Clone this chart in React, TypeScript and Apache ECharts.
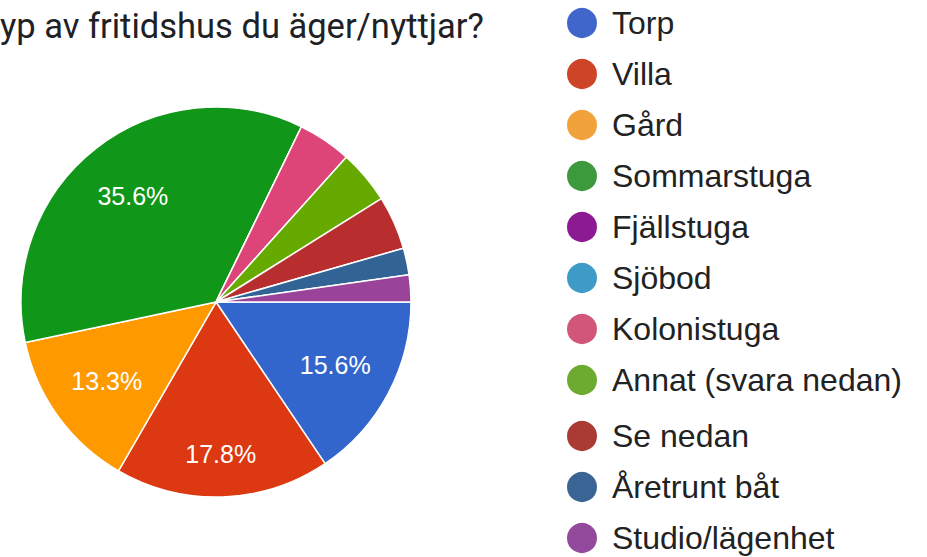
import React, { useEffect, useRef } from "react";
import * as echarts from "echarts";

const titleText = "yp av fritidshus du äger/nyttjar?";
const categories = [
  "Torp",
  "Villa",
  "Gård",
  "Sommarstuga",
  "Fjällstuga",
  "Sjöbod",
  "Kolonistuga",
  "Annat (svara nedan)",
  "Se nedan",
  "Åretrunt båt",
  "Studio/lägenhet",
];
// respondent counts (45 total) read from the slice percentages
const counts = [7, 8, 6, 16, 0, 0, 2, 2, 2, 1, 1];

const sliceColors = [
  "#3366cc", "#dc3912", "#ff9900", "#109618", "#990099", "#0099c6",
  "#dd4477", "#66aa00", "#b82e2e", "#316395", "#994499",
];
const legendColors = [
  "#4066cc", "#cd4427", "#f2a23a", "#3c9a3c", "#8c1a93", "#3e9ac6",
  "#d2567a", "#6cab30", "#aa3a34", "#3a6494", "#944a9c",
];

export default function App() {
  const ref = useRef<HTMLDivElement>(null);
  useEffect(() => {
    if (!ref.current) return;
    const chart = echarts.init(ref.current, null, { renderer: "svg" });
    const pieData = categories.map((name, i) => ({
      name,
      value: counts[i],
      itemStyle: { color: sliceColors[i] },
    }));
    const labelData = categories.map((name, i) => ({
      name,
      value: counts[i],
      label: name === "Villa" ? { offset: [0, 17] } : undefined,
    }));
    const legendItems = categories.map((name, i) => ({
      name,
      itemStyle: { color: legendColors[i] },
    }));
    const legendCommon = {
      orient: "vertical" as const,
      left: 565,
      height: 400,
      icon: "circle",
      itemWidth: 50,
      itemHeight: 32,
      itemGap: 17,
      padding: 0,
      selectedMode: false,
      textStyle: {
        fontFamily: "Liberation Sans, Arial, sans-serif",
        fontSize: 32,
        lineHeight: 32,
        color: "#222222",
      },
    };
    chart.setOption({
      animation: false,
      title: {
        text: titleText,
        left: 0,
        top: 8,
        padding: 0,
        textStyle: {
          fontFamily: "Roboto, sans-serif",
          fontSize: 34.5,
          fontWeight: "normal",
          color: "#202124",
        },
      },
      legend: [
        { ...legendCommon, top: 6, data: legendItems.slice(0, 8) },
        { ...legendCommon, top: 419, height: 150, data: legendItems.slice(8) },
      ],
      series: [
        {
          type: "pie",
          center: [216, 302],
          radius: [0, 195],
          startAngle: 0,
          clockwise: true,
          label: { show: false },
          labelLine: { show: false },
          emphasis: { disabled: true },
          itemStyle: { borderColor: "#ffffff", borderWidth: 1.5 },
          data: pieData,
        },
        {
          type: "pie",
          center: [216, 302],
          radius: [0, 264],
          startAngle: 0,
          clockwise: true,
          silent: true,
          emphasis: { disabled: true },
          itemStyle: { color: "rgba(0,0,0,0)", borderWidth: 0 },
          labelLine: { show: false },
          label: {
            show: true,
            position: "inside",
            color: "#ffffff",
            fontFamily: "Liberation Sans, Arial, sans-serif",
            fontSize: 25,
            formatter: (p: any) => (p.percent >= 5 ? p.percent.toFixed(1) + "%" : ""),
          },
          data: labelData,
        },
      ],
    });
    return () => chart.dispose();
  }, []);
  return (
    <div
      ref={ref}
      style={{ position: "fixed", left: 0, top: 0, width: 927, height: 557, background: "#ffffff" }}
    />
  );
}
